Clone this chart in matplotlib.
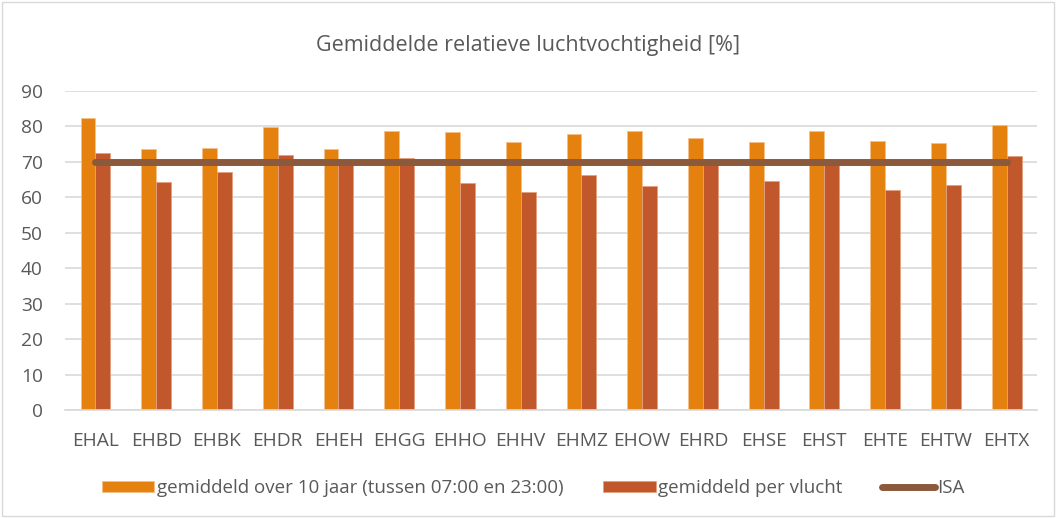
import matplotlib.pyplot as plt
from matplotlib.patches import Rectangle
import numpy as np

plt.rcParams['font.family'] = ['Open Sans', 'DejaVu Sans']

stations = ['EHAL', 'EHBD', 'EHBK', 'EHDR', 'EHEH', 'EHGG', 'EHHO', 'EHHV',
            'EHMZ', 'EHOW', 'EHRD', 'EHSE', 'EHST', 'EHTE', 'EHTW', 'EHTX']
avg_10y = [82.4, 73.6, 73.8, 79.7, 73.6, 78.6, 78.4, 75.5,
           77.9, 78.6, 76.6, 75.6, 78.6, 75.9, 75.4, 80.3]
avg_flight = [72.5, 64.4, 67.1, 71.9, 69.8, 71.1, 64.0, 61.5,
              66.4, 63.2, 70.7, 64.6, 70.0, 62.0, 63.4, 71.6]
isa = [70] * len(stations)

text_col = '#595959'
fig = plt.figure(figsize=(10.56, 5.18), dpi=100)
ax = fig.add_axes([0.0616, 0.2085, 0.9204, 0.616])

x = np.arange(len(stations))
w = 0.245
b1 = ax.bar(x - w / 2, avg_10y, w, color='#E5820F', edgecolor='#F5C08A', linewidth=0.6,
            label='gemiddeld over 10 jaar (tussen 07:00 en 23:00)', zorder=2)
b2 = ax.bar(x + w / 2, avg_flight, w, color='#C0582B', edgecolor='#E2A07F', linewidth=0.6,
            label='gemiddeld per vlucht', zorder=2)
l1, = ax.plot(x, isa, color='#8B5A3C', linewidth=5, solid_capstyle='round', label='ISA', zorder=3)

ax.set_xlim(-0.5, len(stations) - 0.5)
ax.set_ylim(0, 90)
ax.set_yticks(range(0, 91, 10))
ax.set_xticks(x)
ax.set_xticklabels(stations)
ax.yaxis.grid(True, color='#D9D9D9', linewidth=1.2, zorder=0)
ax.set_axisbelow(True)
for s in ['top', 'right', 'left']:
    ax.spines[s].set_visible(False)
ax.spines['bottom'].set_color('#D9D9D9')
ax.spines['bottom'].set_linewidth(1.2)
ax.tick_params(axis='both', length=0, labelsize=13.8, colors=text_col)
ax.tick_params(axis='x', pad=16)
ax.tick_params(axis='y', pad=16)

fig.text(0.5, 0.913, 'Gemiddelde relatieve luchtvochtigheid [%]', ha='center', va='center',
         fontsize=15.5, color=text_col)

fig.legend(handles=[b1, b2, l1], loc='center', bbox_to_anchor=(0.505, 0.058), ncol=3,
           frameon=False, fontsize=13.5, labelcolor=text_col, handlelength=2.8,
           handleheight=0.55, columnspacing=2.1, handletextpad=0.15)

fig.patches.append(Rectangle((0.002, 0.003), 0.996, 0.994, transform=fig.transFigure,
                             fill=False, edgecolor='#D9D9D9', linewidth=1))

fig.savefig('out.png', dpi=100)
